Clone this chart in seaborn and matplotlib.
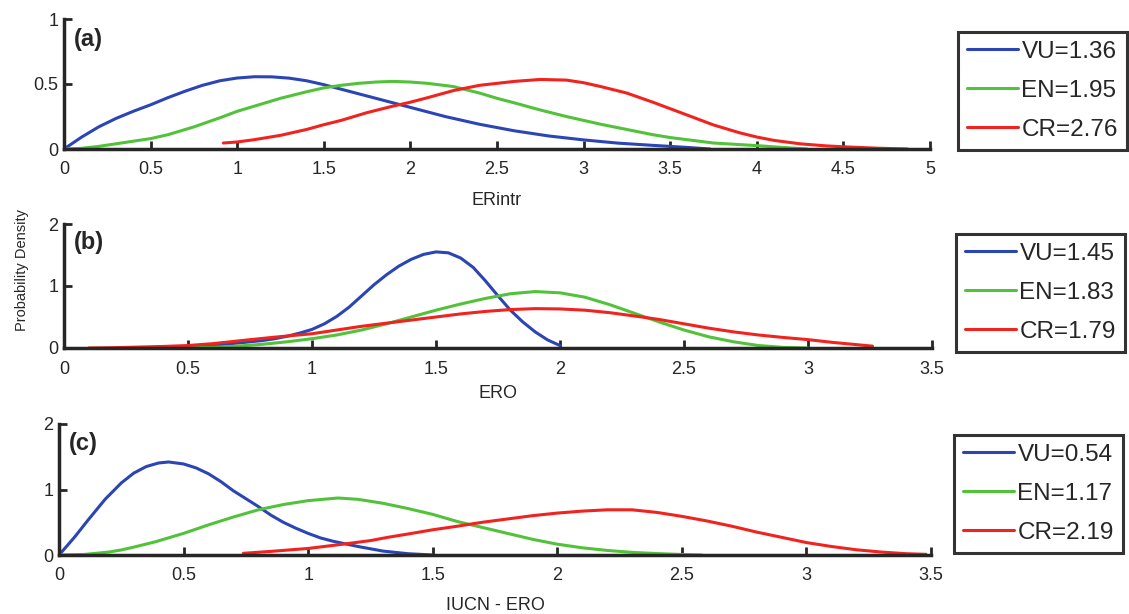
import matplotlib
matplotlib.use('Agg')
import matplotlib.pyplot as plt
from matplotlib.ticker import FormatStrFormatter
import numpy as np
import pandas as pd
import seaborn as sns

# panel (a) - ERintr
a_vu_x = [0, 0.1, 0.2, 0.3, 0.4, 0.5, 0.6, 0.7, 0.8, 0.9, 1.0, 1.1, 1.2, 1.3, 1.4, 1.5, 1.6, 1.7, 1.8, 1.9,
          2.0, 2.2, 2.4, 2.6, 2.8, 3.0, 3.2, 3.4, 3.6, 3.73]
a_vu_y = [0, 0.09, 0.17, 0.235, 0.29, 0.34, 0.395, 0.445, 0.49, 0.525, 0.546, 0.556, 0.555, 0.545, 0.525,
          0.495, 0.46, 0.425, 0.39, 0.355, 0.32, 0.25, 0.19, 0.14, 0.10, 0.07, 0.045, 0.028, 0.012, 0.0]
a_en_x = [0, 0.1, 0.2, 0.3, 0.4, 0.5, 0.6, 0.75, 0.9, 1.0, 1.1, 1.25, 1.4, 1.5, 1.6, 1.7, 1.8, 1.9, 2.0,
          2.1, 2.25, 2.4, 2.5, 2.6, 2.75, 2.9, 3.0, 3.1, 3.25, 3.4, 3.5, 3.75, 4.0, 4.15, 4.29]
a_en_y = [0, 0.005, 0.02, 0.04, 0.06, 0.08, 0.11, 0.17, 0.24, 0.29, 0.33, 0.39, 0.44, 0.47, 0.49, 0.505,
          0.515, 0.52, 0.515, 0.505, 0.48, 0.43, 0.39, 0.355, 0.30, 0.25, 0.22, 0.19, 0.15, 0.11, 0.088,
          0.046, 0.026, 0.012, 0.0]
a_cr_x = [0.92, 1.0, 1.1, 1.25, 1.4, 1.5, 1.6, 1.75, 1.9, 2.0, 2.1, 2.25, 2.4, 2.5, 2.6, 2.75, 2.9, 3.0,
          3.1, 3.25, 3.4, 3.5, 3.6, 3.75, 3.9, 4.0, 4.1, 4.25, 4.4, 4.5, 4.7, 4.87]
a_cr_y = [0.046, 0.054, 0.072, 0.105, 0.15, 0.187, 0.22, 0.28, 0.33, 0.36, 0.395, 0.45, 0.49, 0.505, 0.52,
          0.535, 0.53, 0.51, 0.48, 0.43, 0.36, 0.31, 0.26, 0.185, 0.125, 0.092, 0.066, 0.04, 0.024, 0.017,
          0.006, 0.0]

# panel (b) - ERO
b_vu_x = [0.3, 0.5, 0.6, 0.7, 0.8, 0.85, 0.9, 0.95, 1.0, 1.05, 1.1, 1.15, 1.2, 1.25, 1.3, 1.35, 1.4, 1.45,
          1.5, 1.55, 1.6, 1.65, 1.7, 1.75, 1.8, 1.85, 1.9, 1.95, 2.0]
b_vu_y = [0.0, 0.02, 0.045, 0.08, 0.12, 0.15, 0.19, 0.24, 0.3, 0.39, 0.51, 0.66, 0.84, 1.02, 1.18, 1.32,
          1.43, 1.51, 1.55, 1.535, 1.45, 1.3, 1.08, 0.84, 0.61, 0.42, 0.26, 0.13, 0.04]
b_en_x = [0.45, 0.6, 0.7, 0.8, 0.9, 1.0, 1.1, 1.2, 1.3, 1.4, 1.5, 1.6, 1.7, 1.8, 1.9, 2.0, 2.1, 2.2, 2.3,
          2.4, 2.5, 2.6, 2.7, 2.8, 2.9, 3.0]
b_en_y = [0.0, 0.01, 0.03, 0.06, 0.1, 0.15, 0.21, 0.29, 0.39, 0.5, 0.61, 0.71, 0.8, 0.875, 0.91, 0.89, 0.82,
          0.7, 0.56, 0.42, 0.29, 0.18, 0.1, 0.04, 0.01, 0.0]
b_cr_x = [0.1, 0.2, 0.3, 0.4, 0.5, 0.6, 0.74, 0.85, 1.0, 1.1, 1.2, 1.3, 1.4, 1.5, 1.6, 1.7, 1.8, 1.9, 2.0,
          2.1, 2.2, 2.33, 2.4, 2.5, 2.6, 2.7, 2.8, 2.9, 3.0, 3.1, 3.26]
b_cr_y = [0.0, 0.005, 0.015, 0.025, 0.04, 0.07, 0.13, 0.175, 0.23, 0.29, 0.35, 0.4, 0.45, 0.5, 0.55, 0.59,
          0.62, 0.635, 0.63, 0.61, 0.57, 0.5, 0.46, 0.39, 0.32, 0.26, 0.21, 0.17, 0.135, 0.09, 0.03]

# panel (c) - IUCN - ERO
c_vu_x = [0, 0.03, 0.064, 0.118, 0.185, 0.25, 0.3, 0.35, 0.4, 0.44, 0.5, 0.55, 0.6, 0.65, 0.7, 0.75, 0.8,
          0.85, 0.9, 0.95, 1.0, 1.05, 1.1, 1.15, 1.2, 1.3, 1.4, 1.5]
c_vu_y = [0, 0.13, 0.28, 0.54, 0.85, 1.1, 1.25, 1.35, 1.405, 1.42, 1.39, 1.33, 1.24, 1.12, 0.98, 0.86, 0.74,
          0.61, 0.5, 0.41, 0.33, 0.26, 0.21, 0.17, 0.13, 0.06, 0.02, 0.0]
c_en_x = [0, 0.1, 0.2, 0.25, 0.3, 0.385, 0.5, 0.6, 0.7, 0.8, 0.9, 1.0, 1.12, 1.2, 1.3, 1.4, 1.5, 1.6, 1.7,
          1.8, 1.9, 2.0, 2.1, 2.2, 2.3, 2.4, 2.5, 2.58]
c_en_y = [0, 0.008, 0.045, 0.077, 0.12, 0.2, 0.33, 0.46, 0.58, 0.69, 0.77, 0.83, 0.87, 0.85, 0.79, 0.71,
          0.62, 0.51, 0.42, 0.33, 0.24, 0.165, 0.11, 0.07, 0.04, 0.022, 0.008, 0.0]
c_cr_x = [0.74, 0.85, 1.0, 1.15, 1.25, 1.32, 1.4, 1.5, 1.6, 1.7, 1.8, 1.9, 2.0, 2.1, 2.2, 2.3, 2.4, 2.5,
          2.6, 2.7, 2.8, 2.9, 3.0, 3.1, 3.2, 3.3, 3.4, 3.48]
c_cr_y = [0.026, 0.055, 0.1, 0.17, 0.22, 0.27, 0.32, 0.385, 0.44, 0.5, 0.55, 0.6, 0.64, 0.67, 0.69, 0.69,
          0.65, 0.59, 0.52, 0.44, 0.35, 0.27, 0.19, 0.13, 0.08, 0.045, 0.02, 0.01]

a_labels = ['VU=1.36', 'EN=1.95', 'CR=2.76']
b_labels = ['VU=1.45', 'EN=1.83', 'CR=1.79']
c_labels = ['VU=0.54', 'EN=1.17', 'CR=2.19']
xlabels = ['ERintr', 'ERO', 'IUCN - ERO']
tags = ['(a)', '(b)', '(c)']

colors = ['#2b45b4', '#52c23a', '#f0231e']

sns.set_style('ticks')
plt.rcParams['font.family'] = ['Liberation Sans', 'DejaVu Sans']

fig = plt.figure(figsize=(11.29, 6.14), dpi=100)
W, H = 1129, 614

# axes boxes in pixels: left, top, right, bottom
boxes = [(64, 19, 930, 149), (64, 224, 932, 348), (59, 424, 931, 555)]
leg_pos = [(958, 32), (956, 234), (954, 435)]
xmaxes = [5, 3.5, 3.5]
ymaxes = [1, 2, 2]
ysteps = [0.5, 1, 1]
tag_y = [0.84, 0.85, 0.85]
xlab_y = [-0.33, -0.30, -0.32]

panels = [
    [(a_vu_x, a_vu_y), (a_en_x, a_en_y), (a_cr_x, a_cr_y)],
    [(b_vu_x, b_vu_y), (b_en_x, b_en_y), (b_cr_x, b_cr_y)],
    [(c_vu_x, c_vu_y), (c_en_x, c_en_y), (c_cr_x, c_cr_y)],
]
all_labels = [a_labels, b_labels, c_labels]

for i in range(3):
    l, t, r, b = boxes[i]
    ax = fig.add_axes([l / W, 1 - b / H, (r - l) / W, (b - t) / H])
    for (xs, ys), lab, col in zip(panels[i], all_labels[i], colors):
        df = pd.DataFrame({'x': xs, 'y': ys})
        sns.lineplot(data=df, x='x', y='y', ax=ax, color=col, lw=2.2,
                     label=lab, sort=False, estimator=None)
    ax.set_xlim(0, xmaxes[i])
    ax.set_ylim(0, ymaxes[i])
    ax.set_xticks(np.arange(0, xmaxes[i] + 0.01, 0.5))
    ax.set_yticks(np.arange(0, ymaxes[i] + 0.01, ysteps[i]))
    ax.xaxis.set_major_formatter(FormatStrFormatter('%g'))
    ax.yaxis.set_major_formatter(FormatStrFormatter('%g'))
    ax.tick_params(direction='in', length=6, width=2, labelsize=13)
    ax.tick_params(axis='x', pad=9)
    ax.tick_params(axis='y', pad=4)
    for s in ['top', 'right']:
        ax.spines[s].set_visible(False)
    for s in ['left', 'bottom']:
        ax.spines[s].set_linewidth(2.5)
    ax.set_xlabel(xlabels[i], fontsize=13)
    ax.xaxis.set_label_coords(0.5, xlab_y[i])
    ax.set_ylabel('')
    ax.text(0.011, tag_y[i], tags[i], transform=ax.transAxes, fontsize=17,
            fontweight='bold', va='center', ha='left')
    lx, ly = leg_pos[i]
    leg = ax.legend(loc='upper left', bbox_to_anchor=(lx / W, 1 - ly / H),
                    bbox_transform=fig.transFigure, fontsize=17.5, frameon=True,
                    fancybox=False, handlelength=2.1, handletextpad=0.15,
                    labelspacing=0.7, borderpad=0.36, borderaxespad=0)
    leg.get_frame().set_edgecolor('black')
    leg.get_frame().set_linewidth(2.2)
    for ln in leg.get_lines():
        ln.set_linewidth(2.2)

fig.text(22 / W, 1 - 270 / H, 'Probability Density', rotation=90,
         va='center', ha='center', fontsize=10.5)

fig.savefig('out.png', dpi=100)
